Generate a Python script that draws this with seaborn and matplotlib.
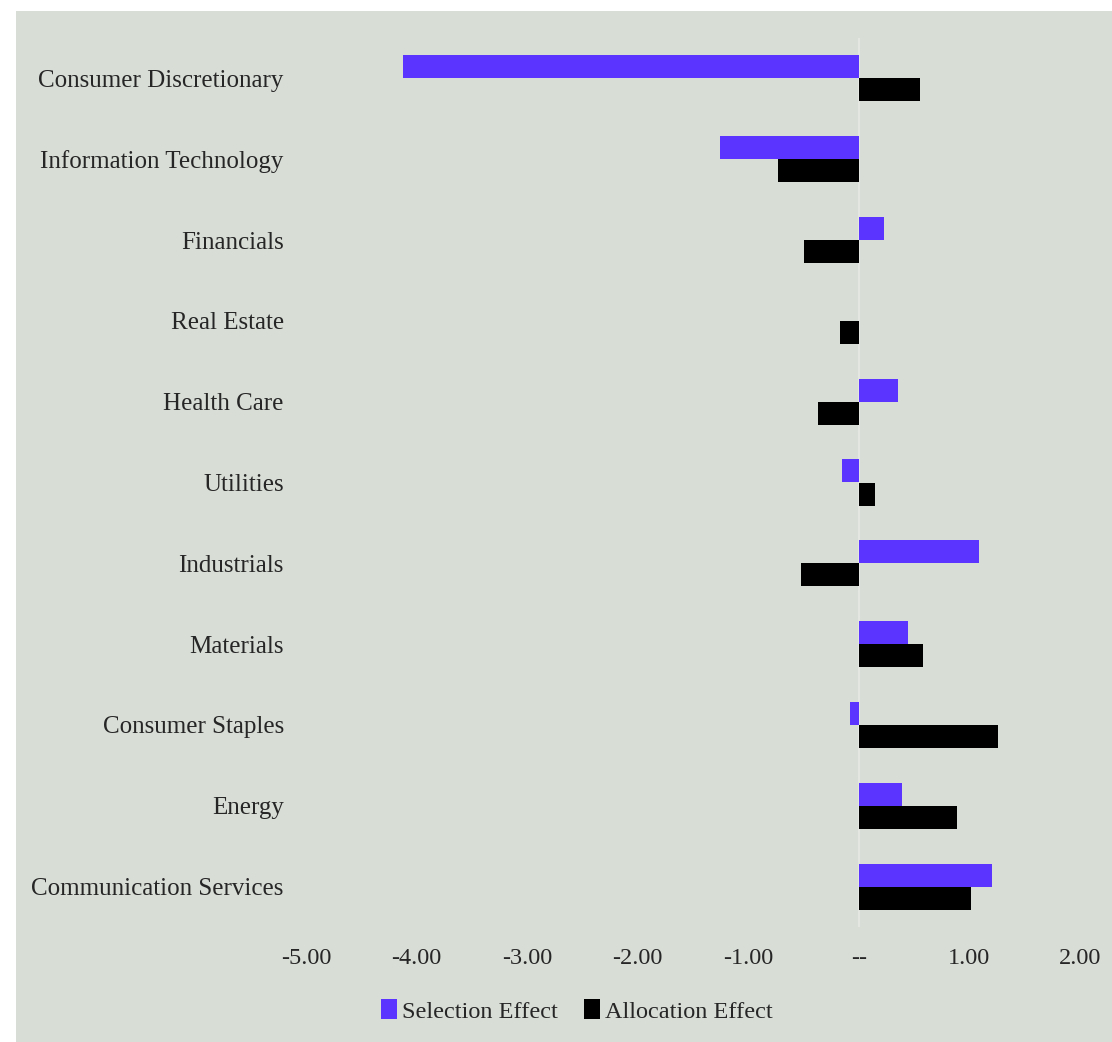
import matplotlib
matplotlib.use("Agg")
import matplotlib.pyplot as plt
from matplotlib.patches import Rectangle
import seaborn as sns
import pandas as pd

# Attribution by sector (percentage points)
sectors = [
    "Consumer Discretionary",
    "Information Technology",
    "Financials",
    "Real Estate",
    "Health Care",
    "Utilities",
    "Industrials",
    "Materials",
    "Consumer Staples",
    "Energy",
    "Communication Services",
]
selection_effect = [-4.12, -1.26, 0.23, 0.0, 0.35, -0.15, 1.09, 0.44, -0.08, 0.39, 1.20]
allocation_effect = [0.55, -0.73, -0.50, -0.17, -0.37, 0.145, -0.52, 0.58, 1.26, 0.89, 1.01]
series_names = ["Selection Effect", "Allocation Effect"]
x_ticks = [-5, -4, -3, -2, -1, 0, 1, 2]
x_tick_labels = ["-5.00", "-4.00", "-3.00", "-2.00", "-1.00", "--", "1.00", "2.00"]

df = pd.DataFrame({
    "sector": sectors * 2,
    "effect": selection_effect + allocation_effect,
    "series": [series_names[0]] * len(sectors) + [series_names[1]] * len(sectors),
})

bg = "#d8ddd6"
text_color = "#262626"
font = ["Liberation Serif", "DejaVu Serif"]
plt.rcParams["font.family"] = font

W, H = 1112, 1042
fig = plt.figure(figsize=(W / 100, H / 100), dpi=100, facecolor="white")
panel = Rectangle((16 / W, 0), 1 - 16 / W + 0.01, (H - 11) / H + 0.0,
                  transform=fig.transFigure, facecolor=bg,
                  edgecolor="none", zorder=-10)
fig.patches.append(panel)

ax = fig.add_axes([306 / W, 1 - 927 / H, (1080 - 306) / W, (927 - 38) / H])
ax.set_facecolor(bg)
ax.patch.set_alpha(0)

ax.axvline(0, color="#e4e6e2", linewidth=1.6, zorder=0)
sns.barplot(data=df, x="effect", y="sector", hue="series", order=sectors,
            hue_order=series_names, palette=["#5b35ff", "#000000"],
            saturation=1, orient="h", width=0.57, linewidth=0, ax=ax,
            legend=True)

ax.set_xlim(-5, 2)
ax.set_xticks(x_ticks)
ax.set_xticklabels(x_tick_labels)
ax.set_xlabel("")
ax.set_ylabel("")
for s in ax.spines.values():
    s.set_visible(False)
ax.tick_params(axis="both", length=0, labelcolor=text_color)
ax.tick_params(axis="y", pad=16, labelsize=18)
ax.tick_params(axis="x", pad=15, labelsize=17.5)

leg = ax.legend(loc="center", bbox_to_anchor=(577 / W, 1 - 1011 / H),
                bbox_transform=fig.transFigure, ncol=2, frameon=False,
                fontsize=17.5, handlelength=0.65, handleheight=0.85,
                handletextpad=0.2, columnspacing=1.1)
for t in leg.get_texts():
    t.set_color(text_color)

fig.savefig("out.png", dpi=100, facecolor="white")
